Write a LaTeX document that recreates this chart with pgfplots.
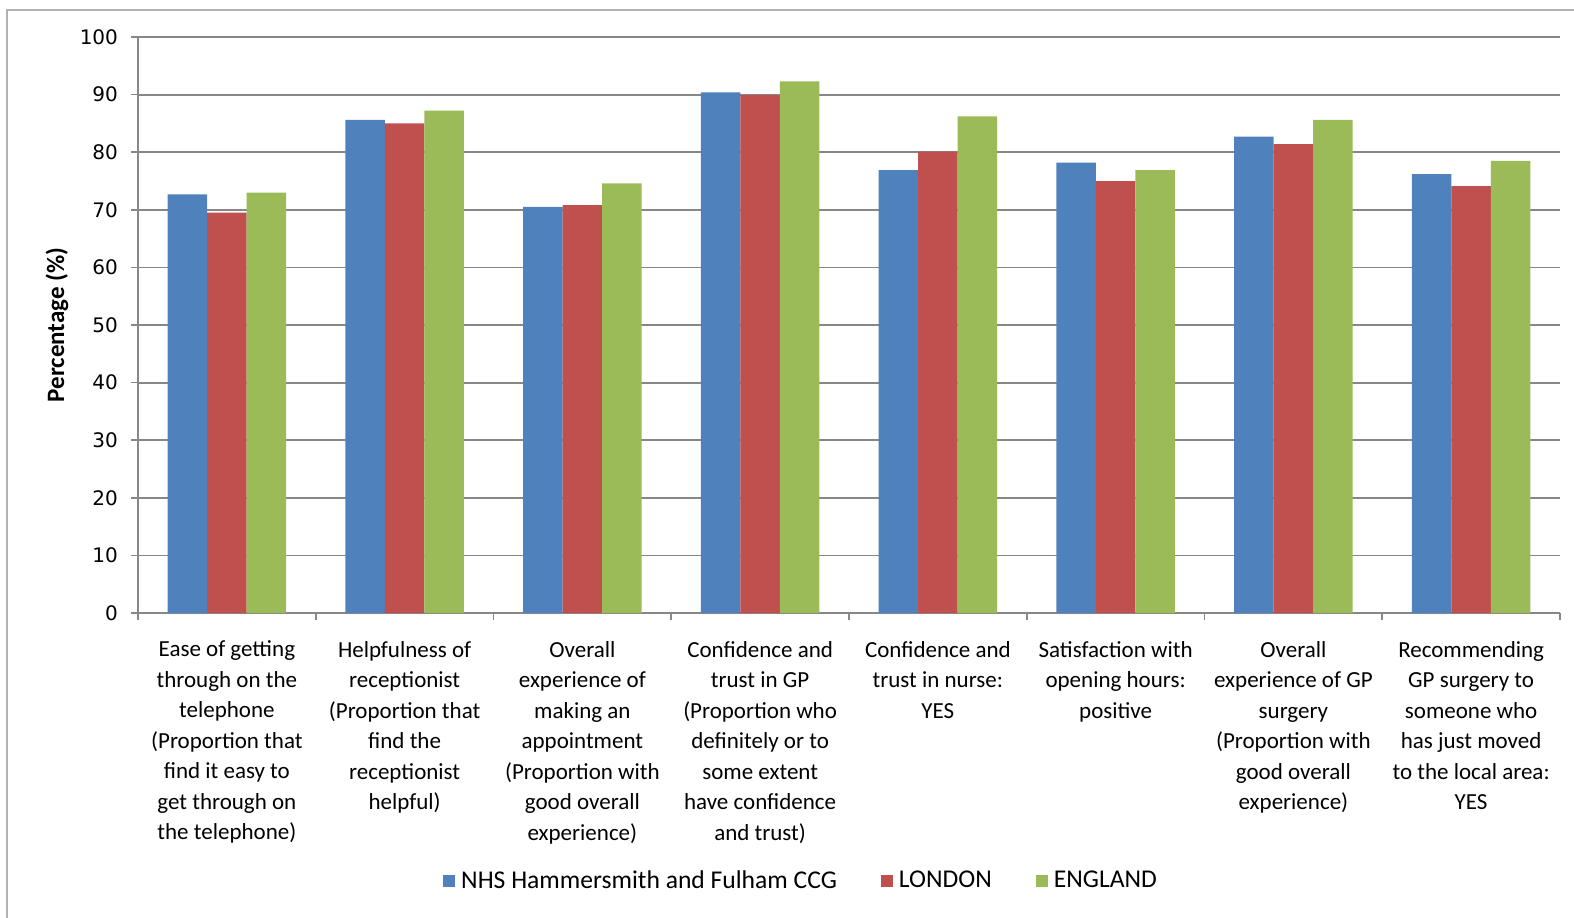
\documentclass[border=0pt]{standalone}
\usepackage{pgfplots}
\pgfplotsset{compat=1.18}
\usepackage{fontspec}
\setmainfont{Carlito}
\newfontfamily\tickfont{DejaVu Sans}

\definecolor{ccgblue}{HTML}{4F81BD}
\definecolor{londonred}{HTML}{C0504D}
\definecolor{englandgreen}{HTML}{9BBB59}
\definecolor{axisgray}{HTML}{878787}

\begin{document}
\begin{tikzpicture}[x=1pt,y=1pt]
% page extent and chart frame
\useasboundingbox (-69pt,-152pt) rectangle (718pt,306.5pt);
\draw[color=black!30, line width=1pt] (-65.5pt,-170pt) -- (-65.5pt,301.5pt) -- (730pt,301.5pt);
\begin{axis}[
  at={(0pt,0pt)}, anchor=south west,
  scale only axis,
  width=711pt, height=288pt,
  ybar=0pt, bar width=19.75pt,
  xmin=-0.5, xmax=7.5,
  ymin=0, ymax=100,
  ytick={0,10,...,100},
  xtick={0,...,7},
  minor xtick={-0.5,0.5,...,7.5},
  major x tick style={draw=none},
  minor x tick style={axisgray, line width=0.8pt},
  minor tick length=3.5pt,
  major tick length=3.5pt,
  tick align=outside,
  axis x line*=bottom, axis y line*=left,
  axis line style={-, axisgray, line width=0.9pt},
  y tick style={axisgray, line width=0.8pt},
  ymajorgrids,
  grid style={axisgray, line width=0.9pt},
  /pgf/number format/assume math mode=true,
  yticklabel style={font=\tickfont\fontsize{10}{12}\selectfont, anchor=east, xshift=-3pt},
  ylabel={\textbf{Percentage (\%)}},
  every axis y label/.style={at={(axis description cs:-0.057,0.5)}, rotate=90, anchor=center,
    font=\fontsize{12.5}{14}\selectfont},
  xticklabel style={font=\fontsize{11.5}{15.25}\selectfont, align=center, anchor=north, yshift=-7pt},
  xticklabels={
    {Ease of getting\\through on the\\telephone\\(Proportion that\\find it  easy to\\get through on\\the telephone)},
    {Helpfulness of\\receptionist\\(Proportion that\\find the\\receptionist\\helpful)},
    {Overall\\experience of\\making an\\appointment\\(Proportion with\\good overall\\experience)},
    {Confidence and\\trust in GP\\(Proportion who\\definitely or to\\some extent\\have confidence\\and trust)},
    {Confidence and\\trust in nurse:\\YES},
    {Satisfaction with\\opening hours:\\positive},
    {Overall\\experience of GP\\surgery\\(Proportion with\\good overall\\experience)},
    {Recommending\\GP surgery to\\someone who\\has just moved\\to the local area:\\YES}
  },
  legend columns=3,
  legend style={at={(axis description cs:0.467,0)}, anchor=center, yshift=-134pt,
    draw=none, font=\fontsize{12.8}{14}\selectfont,
    /tikz/every odd column/.append style={column sep=1pt},
    /tikz/every even column/.append style={column sep=20pt}},
  legend image code/.code={\fill[#1,draw=none] (0pt,-3pt) rectangle (6pt,3pt);},
]
\addplot[fill=ccgblue, draw=none] coordinates {
  (0,72.7) (1,85.6) (2,70.5) (3,90.4) (4,76.9) (5,78.2) (6,82.7) (7,76.2)};
\addplot[fill=londonred, draw=none] coordinates {
  (0,69.5) (1,85.0) (2,70.8) (3,89.9) (4,80.1) (5,75.0) (6,81.4) (7,74.1)};
\addplot[fill=englandgreen, draw=none] coordinates {
  (0,73.0) (1,87.2) (2,74.6) (3,92.3) (4,86.2) (5,76.9) (6,85.6) (7,78.5)};
\legend{NHS Hammersmith and Fulham CCG, LONDON, ENGLAND}
\end{axis}
\end{tikzpicture}
\end{document}
